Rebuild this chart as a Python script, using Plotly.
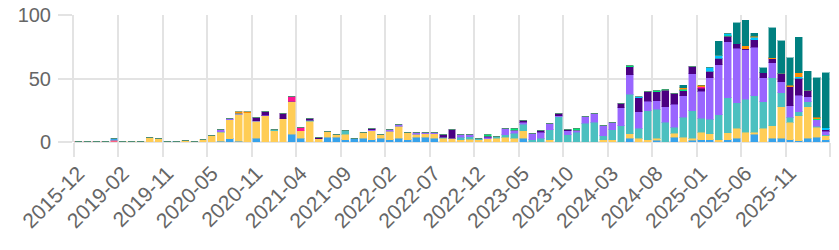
import plotly.graph_objects as go

categories = [
    "2015-12", "2016-05", "2017-08", "2018-03", "2018-11",
    "2019-02", "2019-04", "2019-06", "2019-08", "2019-10",
    "2019-11", "2019-12", "2020-01", "2020-02", "2020-03",
    "2020-05", "2020-06", "2020-07", "2020-08", "2020-09",
    "2020-11", "2020-12", "2021-01", "2021-02", "2021-03",
    "2021-04", "2021-05", "2021-06", "2021-07", "2021-08",
    "2021-09", "2021-10", "2021-11", "2021-12", "2022-01",
    "2022-02", "2022-03", "2022-04", "2022-05", "2022-06",
    "2022-07", "2022-08", "2022-09", "2022-10", "2022-11",
    "2022-12", "2023-01", "2023-02", "2023-03", "2023-04",
    "2023-05", "2023-06", "2023-07", "2023-08", "2023-09",
    "2023-10", "2023-11", "2023-12", "2024-01", "2024-02",
    "2024-03", "2024-04", "2024-05", "2024-06", "2024-07",
    "2024-08", "2024-09", "2024-10", "2024-11", "2024-12",
    "2025-01", "2025-02", "2025-03", "2025-04", "2025-05",
    "2025-06", "2025-07", "2025-08", "2025-09", "2025-10",
    "2025-11", "2025-12", "2026-01", "2026-02", "2026-03",
]

s_red = [0.6, 0.6, 0.6, 0.6, 1.5] + [0] * 80
s_blue = [0, 0, 0, 0, 1.5, 0, 0, 0, 0, 0,
          0.5, 0.5, 0, 0, 0, 0, 0.5, 2.5, 0.4, 0,
          3, 0, 0, 0, 6, 2.9, 0, 0, 3.9, 3.9,
          1.8, 2.9, 2.9, 1.8, 2.9, 1.8, 2.9, 1.8, 3.9, 3.9,
          3.1, 0, 0, 0, 0, 0, 0, 0, 0, 0,
          2.9, 0, 0, 0, 0, 0, 0, 0, 0, 0,
          0, 0, 2.9, 0, 0, 1.3, 0, 3.9, 0, 1.3,
          1.8, 1.8, 0, 1.8, 2.9, 0, 6, 0, 2.9, 2.9,
          1.8, 1, 2.9, 3.9, 1.8]
s_yellow = [0, 0, 0, 0, 0, 0.5, 0.5, 0.6, 3.5, 2.6,
            0, 0, 1.5, 0.4, 1.8, 5.5, 7.2, 15, 21.5, 23,
            13.5, 20.5, 9, 18.5, 26, 5.8, 16.5, 2.7, 4.7, 1.8,
            4.2, 0, 4.7, 7, 2.9, 6.6, 9.4, 5.8, 2.4, 2.6,
            3.5, 2.9, 2.9, 1.8, 2, 1.8, 2.6, 2.9, 3.9, 2.9,
            5.8, 0, 0, 1.8, 0, 0, 0, 0, 0, 1.8,
            1.8, 0, 3.7, 2.9, 1.8, 1.5, 0, 2.9, 3.9, 1.5,
            5.8, 4.7, 1.8, 5.5, 7.9, 7.6, 1.6, 10.8, 10, 25,
            13.9, 19.7, 25, 7.6, 3.1]
s_teal = [0, 0, 0, 0, 0, 0, 0, 0, 0, 0,
          0, 0, 0, 0, 0, 0, 0.3, 0, 0, 0,
          0, 0, 1, 0, 0, 0, 0.5, 0, 0, 0,
          2.9, 0, 0, 0, 0, 0, 0, 0, 0, 0,
          0, 1, 0, 2, 2, 1, 0, 1.8, 1.8, 3.9,
          5.2, 1.8, 2.9, 7.9, 19.7, 5.8, 7.6, 14.7, 15.7, 3.1,
          7.9, 12.9, 31, 7.9, 22.8, 22.8, 15.7, 5, 15.7, 21.8,
          11, 11.5, 19.7, 27.6, 20, 26, 29, 21, 37.8, 11,
          3.9, 3.1, 3.9, 1, 0.8]
s_purple = [0, 0, 0, 0, 0, 0, 0, 0, 0, 0,
            0, 0, 0, 0, 0, 0, 1.8, 1, 0.8, 0,
            0.3, 0.5, 0, 0, 0, 0, 0, 0, 0, 0,
            0, 0, 0, 1, 0, 1.6, 1.6, 0, 1.3, 1,
            1, 0, 0, 1.8, 1.8, 0, 1, 0, 5.2, 2.6,
            1.8, 5, 4.7, 5, 1, 3.1, 1.8, 5, 6.8, 7.9,
            6, 13.9, 15.2, 13.1, 7.3, 6.8, 12, 17.8, 17, 29,
            21.3, 32.5, 39.4, 44, 43, 39, 38, 18.9, 11.8, 8.7,
            8.9, 12.9, 3.9, 5, 2.9]
s_indigo = [0, 0, 0, 0, 0, 0, 0, 0, 0, 0,
            0, 0, 0, 0, 0, 0, 0, 0, 0, 0,
            2.4, 3, 0, 4.2, 0, 0, 1.6, 1, 0, 0,
            0, 0, 0, 0.8, 0, 0, 0, 0, 0, 0,
            0, 1.8, 7, 0, 0, 0, 0.8, 0, 0, 0,
            1.6, 0, 1.6, 0, 1.8, 1, 0, 0, 0, 0,
            0, 3.9, 6.3, 10.8, 7.6, 7.1, 12.9, 8.9, 3.9, 5.8,
            2.6, 5.2, 5.2, 4.2, 3.7, 1, 5.8, 3.9, 2.9, 6.6,
            15, 13.6, 5, 0, 1]
s_pink = [0] * 24 + [4, 2.9] + [0] * 44 + [1] + [0] * 14
s_green = [0] * 46 + [1.3, 0, 0, 1.6] + [0] * 6 + [1.3] + [0] * 4 + \
          [0, 1, 0, 0, 1, 1, 0, 1, 0, 0,
           0, 0, 0.8, 0, 0, 0, 0, 0, 0, 0,
           0, 0, 1, 0, 0]
s_cyan = [0] * 60 + \
         [0, 0, 0, 1, 0, 0, 0, 0, 0, 0,
          0, 3.1, 2.1, 1.6, 0, 0, 2, 0, 0, 0,
          0, 1, 0, 0, 1.8]
s_orange = [0] * 18 + [1.2, 1] + [0] * 40 + \
           [0, 0, 0, 0, 0, 0, 0, 0, 1.3, 0,
            1, 0, 0, 0, 0, 2.1, 0.8, 0, 1, 0,
            1, 3.1, 0, 1, 0]
s_dteal = [0] * 60 + \
          [0, 0, 0, 0, 0, 0, 0, 0, 1.8, 0,
           0, 0, 11, 0, 16.3, 20, 2.6, 3.9, 23.4, 25.7,
           21.8, 28, 15, 31, 43]

series = [
    (s_red, (255, 99, 132)),
    (s_blue, (54, 162, 235)),
    (s_yellow, (255, 205, 86)),
    (s_teal, (75, 192, 192)),
    (s_purple, (153, 102, 255)),
    (s_indigo, (75, 0, 130)),
    (s_pink, (255, 20, 147)),
    (s_green, (0, 230, 118)),
    (s_cyan, (0, 195, 255)),
    (s_orange, (255, 140, 0)),
    (s_dteal, (0, 128, 128)),
]

fig = go.Figure()
for vals, (r, g, b) in series:
    fig.add_trace(go.Bar(
        x=categories, y=vals,
        marker=dict(color=f"rgb({r},{g},{b})",
                    line=dict(color=f"rgba({r},{g},{b},0.45)", width=1)),
        showlegend=False,
    ))

grid = "#e3e3e3"
yfont = dict(family="Liberation Sans, Arial, sans-serif", size=20, color="#666666")
xfont = dict(family="Liberation Sans, Arial, sans-serif", size=21, color="#666666")
fig.update_layout(
    barmode="stack", bargap=0.22,
    width=839, height=250,
    margin=dict(l=74, r=9, t=15, b=108, autoexpand=False),
    plot_bgcolor="white", paper_bgcolor="white",
    font=yfont,
    xaxis=dict(type="category", tickmode="linear", tick0=0, dtick=5,
               tickson="boundaries", showgrid=True, gridcolor=grid, gridwidth=2,
               ticks="outside", ticklen=14, tickwidth=2, tickcolor=grid,
               tickangle=-45, tickfont=xfont, showline=False,
               ticklabelstandoff=14,
               range=[-0.5, len(categories) - 0.5]),
    yaxis=dict(range=[0, 100], tickmode="linear", tick0=0, dtick=50,
               showgrid=True, gridcolor=grid, gridwidth=2,
               zeroline=True, zerolinecolor=grid, zerolinewidth=2,
               showline=True, linecolor=grid, linewidth=2,
               ticks="outside", ticklen=14, tickwidth=2, tickcolor=grid,
               ticklabelstandoff=3,
               tickfont=yfont),
)
fig.write_html("out.html")
